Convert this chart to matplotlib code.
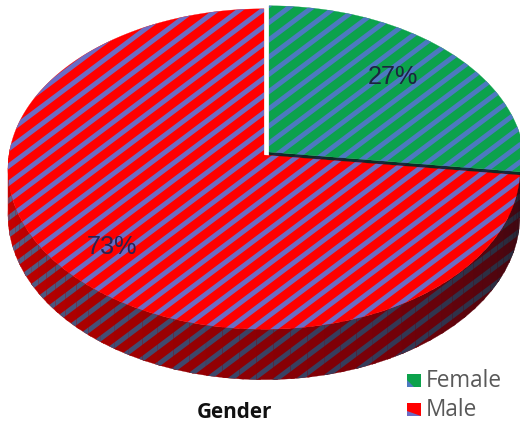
import numpy as np
import matplotlib
matplotlib.use("Agg")
import matplotlib.pyplot as plt
from matplotlib.patches import Polygon
from matplotlib.collections import LineCollection
from matplotlib.colors import to_rgb

# 数据
labels = ["Female", "Male"]
shares = [27, 73]
top_colors = ["#0ca24c", "#ff0000"]
stripe_colors = ["#4c79c0", "#6c6cc4"]
title = "Gender"

DPI = 65
W, H = 520, 427
fig = plt.figure(figsize=(W / DPI, H / DPI), dpi=DPI)
ax = fig.add_axes([0, 0, 1, 1])
ax.set_xlim(0, W)
ax.set_ylim(H, 0)
ax.axis("off")

# 3D饼图几何参数(像素)
cx, cy = 264, 155
B, A = 255, 159
k = 0.0875
D = 46
explode = (5, -3)
STEP = 23        # 条纹水平间距(像素)
SLOPE = 0.75     # 条纹斜率(约37度)
STRIPE_LW = 5.4  # 条纹线宽(pt)


def rim(theta_deg, ox=0.0, oy=0.0, drop=0.0):
    t = np.radians(theta_deg)
    s = -np.sin(t)
    f = 1.0 / (1.0 - k * s)
    return np.column_stack([cx + ox + B * np.cos(t) * f,
                            cy + oy + A * s * f + drop * f])


def mix(c1, c2, w):
    a, b = np.array(to_rgb(c1)), np.array(to_rgb(c2))
    return tuple(a + (b - a) * w)


def shade(c_list, t):
    n = len(c_list) - 1
    i = min(int(t * n), n - 1)
    return mix(c_list[i], c_list[i + 1], t * n - i)


def striped(pts, face, stripe, z=1):
    # 填充多边形并画斜条纹(裁剪到多边形内)
    poly = Polygon(pts, closed=True, facecolor=face, edgecolor=face, lw=0.3, zorder=z)
    ax.add_patch(poly)
    run = H / SLOPE
    cs = np.arange(0, W + run + STEP, STEP)
    segs = [[(c, 0), (c - run, H)] for c in cs]
    lc = LineCollection(segs, colors=[stripe], linewidths=STRIPE_LW, zorder=z)
    ax.add_collection(lc)
    lc.set_clip_path(poly)
    return poly


# 各扇区角度(从12点钟方向顺时针)
bounds = 90 - 360 * np.cumsum([0] + shares) / sum(shares)
fem_a0, fem_a1 = bounds[0], bounds[1]
male_a0, male_a1 = bounds[1], bounds[2]
ex, ey = explode

# 女性扇区侧面(右侧小段)
th = np.linspace(3, fem_a1, 10)
pts = np.vstack([rim(th, ex, ey), rim(th[::-1], ex, ey, D)])
striped(pts, "#10241c", "#1e2638", z=1)
# 女性扇区切面
p1 = rim([fem_a1], ex, ey)[0]
quad = [(cx + ex, cy + ey), p1, (p1[0], p1[1] + D), (cx + ex, cy + ey + D)]
striped(quad, "#0e2a26", "#1a2640", z=1)

# 男性扇区侧面, 分段着色
face_grad = ["#d00000", "#a40000", "#780008", "#3a0812"]
stripe_grad = ["#5c6894", "#424e74", "#343a58", "#262634"]
nseg = 50
edges = np.linspace(-182, male_a0, nseg + 1)
for i in range(nseg):
    a, b = edges[i] - 0.4, edges[i + 1] + 0.4
    th = np.linspace(a, b, 6)
    pts = np.vstack([rim(th), rim(th[::-1], drop=D)])
    t = i / (nseg - 1)
    striped(pts, shade(face_grad, t), shade(stripe_grad, t), z=2)

# 顶面
th = np.linspace(male_a0, male_a1, 300)
striped(np.vstack([[cx, cy], rim(th)]), top_colors[1], stripe_colors[1], z=3)
th = np.linspace(fem_a0, fem_a1, 150)
striped(np.vstack([[cx + ex, cy + ey], rim(th, ex, ey)]), top_colors[0],
        stripe_colors[0], z=3)

# 百分比标签
ax.text(393, 77, f"{shares[0]}%", ha="center", va="center", fontsize=28,
        family="Liberation Sans", color="#1c2440", zorder=5)
ax.text(112, 247, f"{shares[1]}%", ha="center", va="center", fontsize=28,
        family="Liberation Sans", color="#2a2250", zorder=5)

# 标题
ax.text(235, 413, title, ha="center", va="center", fontsize=23,
        family="Open Sans", fontweight="bold", color="#111111")

# 图例(手动绘制小方块)
leg_y = [381, 410]
for i, lab in enumerate(labels):
    sq = [(407, leg_y[i] - 7), (421, leg_y[i] - 7), (421, leg_y[i] + 6), (407, leg_y[i] + 6)]
    if i == 0:
        ax.add_patch(Polygon(sq, closed=True, facecolor=top_colors[i], lw=0, zorder=4))
        ax.add_patch(Polygon([sq[0], sq[3], (414, leg_y[i] + 6), (407, leg_y[i] - 1)],
                             closed=True, facecolor=stripe_colors[i], lw=0, zorder=4))
    else:
        ax.add_patch(Polygon(sq, closed=True, facecolor=top_colors[i], lw=0, zorder=4))
        ax.add_patch(Polygon([sq[2], sq[3], (407, leg_y[i] + 1)], closed=True,
                             facecolor=stripe_colors[i], lw=0, zorder=4))
    ax.text(426, leg_y[i], lab, ha="left", va="center", fontsize=25,
            family="Open Sans", color="#595959")

fig.savefig("out.png", dpi=DPI)
